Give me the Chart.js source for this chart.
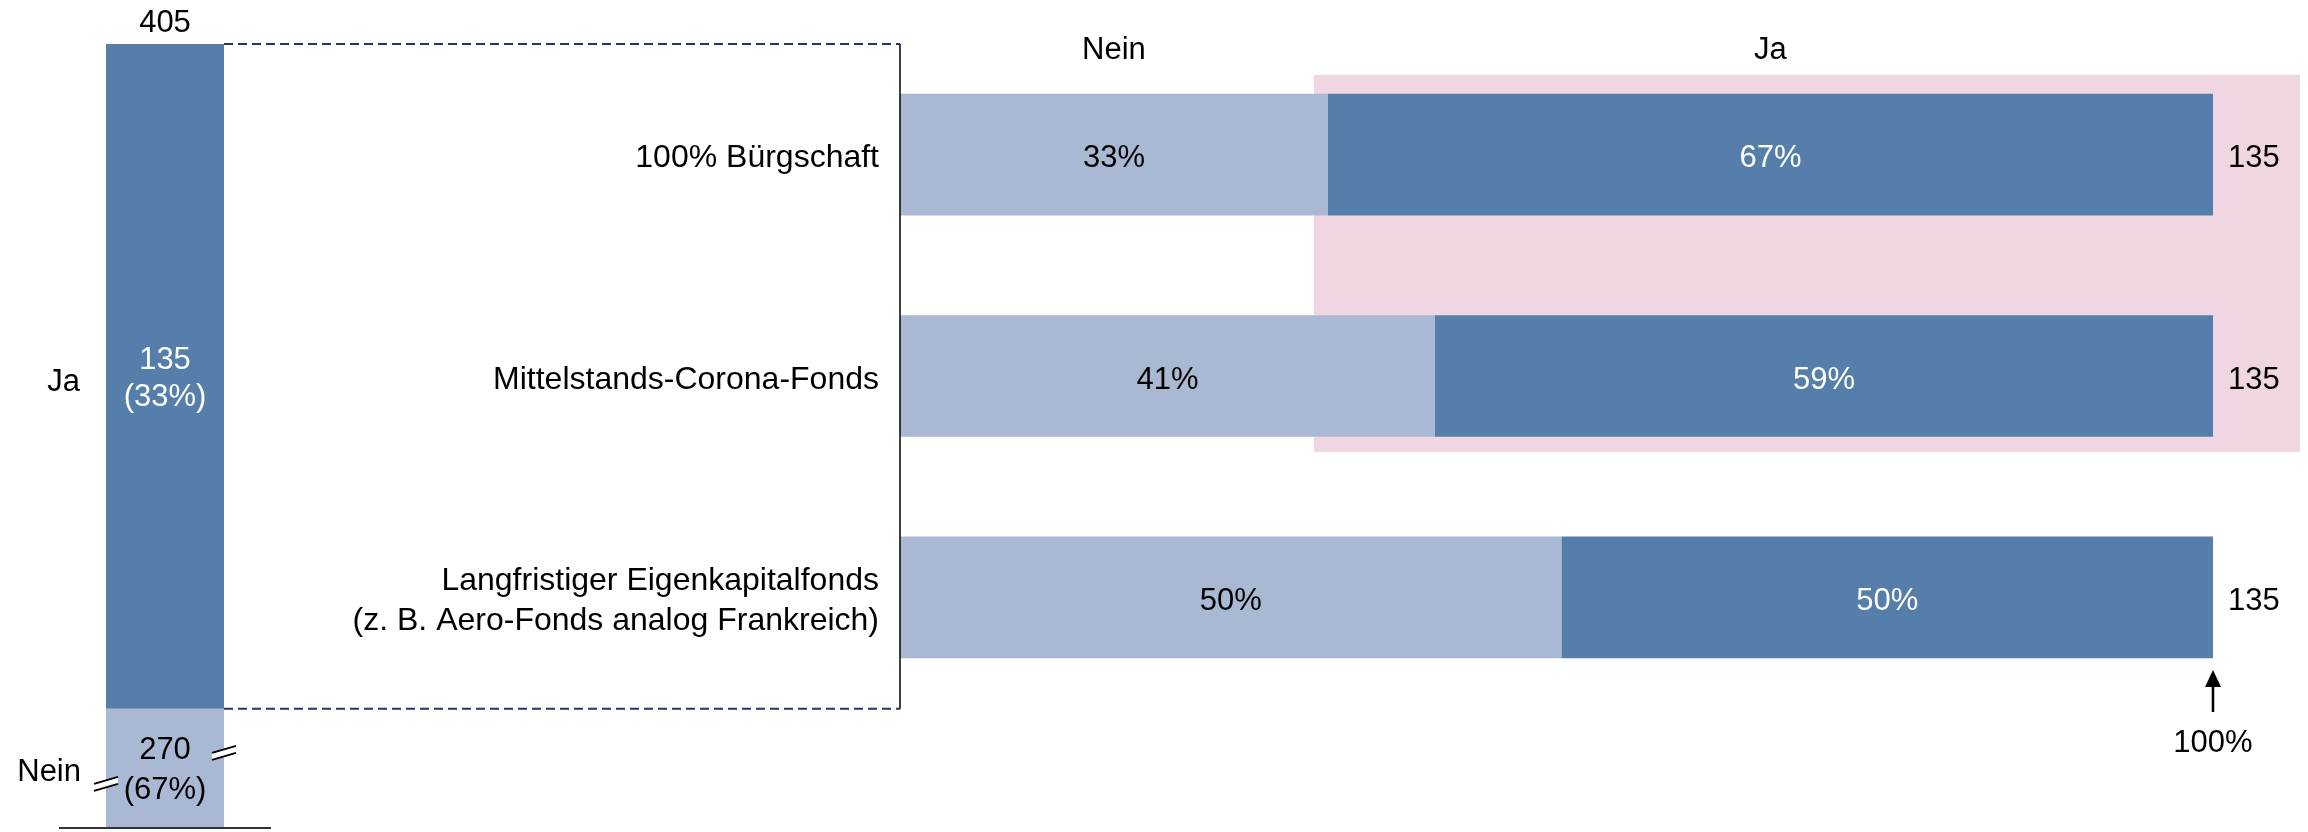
<!DOCTYPE html>
<html><head><meta charset="utf-8">
<script src="https://cdn.jsdelivr.net/npm/chart.js@4.4.1/dist/chart.umd.min.js"></script>
<style>
html,body{margin:0;padding:0;background:#fff;}
#wrap{position:relative;width:2308px;height:832px;background:#fff;}
canvas{position:absolute;left:0;top:0;}
</style></head><body>
<div id="wrap"><canvas id="right" width="2308" height="832"></canvas><canvas id="left" width="2308" height="832"></canvas></div>
<script>
// ---- data ----
const totalCategories = [''];
const totalLabels = ['Nein', 'Ja'];
const totalValues = [270, 135];          // Nein, Ja
const measures = ['100% Bürgschaft', 'Mittelstands-Corona-Fonds', ['Langfristiger Eigenkapitalfonds', '(z. B. Aero-Fonds analog Frankreich)']];
const neinCount = [44, 55, 68];
const jaCount = [91, 80, 67];
const respondents = [135, 135, 135];
const headerLabels = ['Nein', 'Ja'];
const axisEndLabel = '100%';

// ---- derived shares (percent of respondents) ----
const neinShare = neinCount.map((v, i) => v / respondents[i] * 100);
const jaShare = jaCount.map((v, i) => v / respondents[i] * 100);

// ---- styles ----
const JA = '#557EAA', NEIN = '#AAB9D3', PINK = '#F0D6E2', NAVY = '#203864';
const FONT = '"Liberation Sans", Arial, sans-serif';
const FS = 31, FS_CAT = 32;
const totalSum = totalValues.reduce((a, b) => a + b, 0);

function txt(ctx, s, x, y, color, align) {
  ctx.fillStyle = color; ctx.textAlign = align || 'center'; ctx.textBaseline = 'middle';
  ctx.fillText(s, x, y);
}
function breakMark(ctx, cx, cy) {
  const hl = 12, dy = 3.5, gap = 7;
  ctx.save();
  ctx.beginPath();
  ctx.moveTo(cx - hl, cy - gap / 2 + dy); ctx.lineTo(cx + hl, cy - gap / 2 - dy);
  ctx.lineTo(cx + hl, cy + gap / 2 - dy); ctx.lineTo(cx - hl, cy + gap / 2 + dy); ctx.closePath();
  ctx.fillStyle = '#fff'; ctx.fill();
  ctx.strokeStyle = '#000'; ctx.lineWidth = 2;
  ctx.beginPath();
  ctx.moveTo(cx - hl, cy - gap / 2 + dy); ctx.lineTo(cx + hl, cy - gap / 2 - dy);
  ctx.moveTo(cx - hl, cy + gap / 2 + dy); ctx.lineTo(cx + hl, cy + gap / 2 - dy);
  ctx.stroke();
  ctx.restore();
}

const leftDecor = {
  id: 'leftDecor',
  afterDatasetsDraw(chart) {
    const ctx = chart.ctx, ca = chart.chartArea, ys = chart.scales.y;
    const cx = (ca.left + ca.right) / 2;
    const yTop = ys.getPixelForValue(totalSum);
    const ySplit = ys.getPixelForValue(totalValues[0]);
    ctx.save();
    ctx.font = FS + 'px ' + FONT;
    txt(ctx, String(totalSum), cx, yTop - 21, '#000');
    const jaMid = (yTop + ySplit) / 2;
    txt(ctx, String(totalValues[1]), cx, jaMid - 16, '#fff');
    txt(ctx, '(' + Math.round(totalValues[1] / totalSum * 100) + '%)', cx, jaMid + 21, '#fff');
    txt(ctx, totalLabels[1], ca.left - 26, jaMid + 6, '#000', 'right');
    const neinMid = (ySplit + ca.bottom) / 2;
    txt(ctx, String(totalValues[0]), cx, neinMid - 17, '#000');
    txt(ctx, '(' + Math.round(totalValues[0] / totalSum * 100) + '%)', cx, neinMid + 23, '#000');
    txt(ctx, totalLabels[0], ca.left - 25, neinMid + 5, '#000', 'right');
    // break marks
    breakMark(ctx, ca.right, neinMid - 15);
    breakMark(ctx, ca.left, neinMid + 16);
    // baseline
    ctx.strokeStyle = '#333'; ctx.lineWidth = 2;
    ctx.beginPath(); ctx.moveTo(ca.left - 47, ca.bottom + 1); ctx.lineTo(ca.right + 47, ca.bottom + 1); ctx.stroke();
    ctx.restore();
  }
};

const leftChart = new Chart(document.getElementById('left'), {
  type: 'bar',
  data: {
    labels: totalCategories,
    datasets: [
      { label: totalLabels[0], data: [totalValues[0]], backgroundColor: NEIN, barPercentage: 1, categoryPercentage: 1 },
      { label: totalLabels[1], data: [totalValues[1]], backgroundColor: JA, barPercentage: 1, categoryPercentage: 1 }
    ]
  },
  options: {
    responsive: false, animation: false, events: [],
    layout: { padding: { left: 106, right: 2308 - 224, top: 44, bottom: 5 } },
    plugins: { legend: { display: false }, tooltip: { enabled: false } },
    scales: {
      x: { display: false, stacked: true },
      y: { display: false, stacked: true, min: 246, max: totalSum }
    }
  },
  plugins: [leftDecor]
});

const rightDecor = {
  id: 'rightDecor',
  beforeDatasetsDraw(chart) {
    const ctx = chart.ctx, ca = chart.chartArea;
    const m0 = chart.getDatasetMeta(0).data, m1 = chart.getDatasetMeta(1).data;
    const top = m0[0].y - m0[0].height / 2 - 19;
    const bottom = m0[1].y + m0[1].height / 2 + 15;
    const left = m1[0].base - 14;
    const right = ca.right + 87;
    ctx.save();
    ctx.fillStyle = PINK;
    ctx.fillRect(left, top, right - left, bottom - top);
    ctx.restore();
  },
  afterDatasetsDraw(chart) {
    const ctx = chart.ctx, ca = chart.chartArea;
    const m0 = chart.getDatasetMeta(0).data, m1 = chart.getDatasetMeta(1).data;
    ctx.save();
    // connecting lines from the total bar
    const lca = leftChart.chartArea, lys = leftChart.scales.y;
    const yA = lys.getPixelForValue(totalSum), yB = lys.getPixelForValue(totalValues[0]);
    ctx.strokeStyle = NAVY; ctx.lineWidth = 2; ctx.setLineDash([9, 5]);
    ctx.beginPath();
    ctx.moveTo(lca.right, yA); ctx.lineTo(ca.left, yA);
    ctx.moveTo(lca.right, yB); ctx.lineTo(ca.left, yB);
    ctx.stroke();
    ctx.setLineDash([]);
    ctx.strokeStyle = '#000'; ctx.lineWidth = 1.5;
    ctx.beginPath(); ctx.moveTo(ca.left, yA); ctx.lineTo(ca.left, yB); ctx.stroke();

    ctx.font = FS + 'px ' + FONT;
    // headers
    txt(ctx, headerLabels[0], (m0[0].base + m0[0].x) / 2, ca.top + 6, '#000');
    txt(ctx, headerLabels[1], (m1[0].base + m1[0].x) / 2, ca.top + 6, '#000');
    measures.forEach((lab, i) => {
      const y = m0[i].y;
      ctx.font = FS_CAT + 'px ' + FONT;
      if (Array.isArray(lab)) {
        txt(ctx, lab[0], ca.left - 21, y - 16, '#000', 'right');
        txt(ctx, lab[1], ca.left - 21, y + 24, '#000', 'right');
      } else {
        txt(ctx, lab, ca.left - 21, y + 4, '#000', 'right');
      }
      ctx.font = FS + 'px ' + FONT;
      txt(ctx, Math.round(neinShare[i]) + '%', (m0[i].base + m0[i].x) / 2, y + 4, '#000');
      txt(ctx, Math.round(jaShare[i]) + '%', (m1[i].base + m1[i].x) / 2, y + 4, '#fff');
      txt(ctx, String(respondents[i]), m1[i].x + 15, y + 4, '#000', 'left');
    });
    // arrow to 100%
    const ax = chart.scales.x.getPixelForValue(100);
    ctx.strokeStyle = '#000'; ctx.lineWidth = 2.5;
    ctx.beginPath(); ctx.moveTo(ax, ca.bottom + 4); ctx.lineTo(ax, ca.bottom - 22); ctx.stroke();
    ctx.fillStyle = '#000';
    ctx.beginPath(); ctx.moveTo(ax, ca.bottom - 38); ctx.lineTo(ax - 8, ca.bottom - 21); ctx.lineTo(ax + 8, ca.bottom - 21); ctx.closePath(); ctx.fill();
    txt(ctx, axisEndLabel, ax, ca.bottom + 35, '#000');
    ctx.restore();
  }
};

const rightChart = new Chart(document.getElementById('right'), {
  type: 'bar',
  data: {
    labels: measures,
    datasets: [
      { label: 'Nein', data: neinShare, backgroundColor: NEIN, barPercentage: 0.55, categoryPercentage: 1 },
      { label: 'Ja', data: jaShare, backgroundColor: JA, barPercentage: 0.55, categoryPercentage: 1 }
    ]
  },
  options: {
    indexAxis: 'y', responsive: false, animation: false, events: [],
    layout: { padding: { left: 900, right: 2308 - 2213, top: 44, bottom: 832 - 708 } },
    plugins: { legend: { display: false }, tooltip: { enabled: false } },
    scales: {
      x: { display: false, stacked: true, min: 0, max: 100 },
      y: { display: false, stacked: true }
    }
  },
  plugins: [rightDecor]
});
</script>
</body></html>
